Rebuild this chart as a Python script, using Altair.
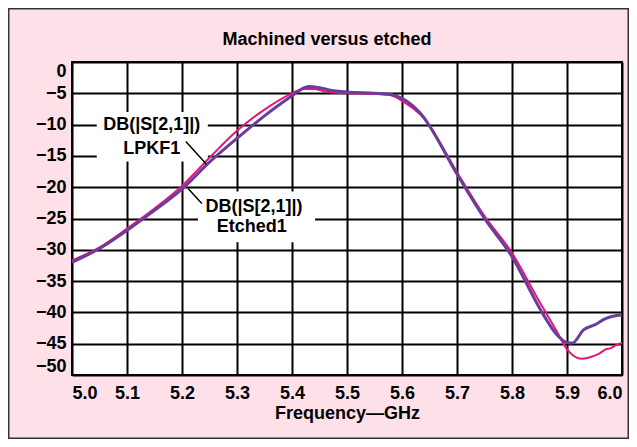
import altair as alt
import pandas as pd

# --- data ---
freq_lpkf = [5.00, 5.05, 5.10, 5.15, 5.20, 5.25, 5.30, 5.35, 5.40, 5.42, 5.43, 5.45, 5.47,
             5.50, 5.55, 5.58, 5.60, 5.62, 5.64, 5.65, 5.70, 5.75, 5.80, 5.85, 5.86, 5.88,
             5.90, 5.91, 5.93, 5.95, 5.97, 5.99, 6.00]
db_lpkf = [-32.0, -29.8, -26.9, -23.7, -20.3, -16.0, -12.2, -8.6, -5.4, -4.2, -3.9, -4.1, -4.5,
           -4.8, -5.0, -5.2, -5.8, -7.0, -8.9, -10.2, -17.9, -25.0, -31.1, -39.3, -40.8, -43.4,
           -44.8, -44.9, -42.8, -42.0, -41.0, -40.5, -40.4]

freq_etched = [5.00, 5.05, 5.10, 5.15, 5.20, 5.25, 5.30, 5.35, 5.40, 5.42, 5.44, 5.46, 5.50,
               5.55, 5.58, 5.60, 5.62, 5.64, 5.65, 5.70, 5.75, 5.80, 5.85, 5.88, 5.90, 5.927,
               5.95, 5.96, 5.97, 5.98, 5.99, 6.00]
db_etched = [-31.7, -29.6, -26.6, -23.4, -19.8, -15.3, -11.0, -7.6, -5.0, -4.3, -4.3, -4.7, -5.0,
             -5.1, -5.3, -6.2, -7.4, -9.0, -10.2, -17.6, -24.6, -30.5, -38.3, -42.8, -45.9, -47.4,
             -46.9, -46.5, -45.9, -45.7, -45.2, -44.9]

x_ticks = [5.0, 5.1, 5.2, 5.3, 5.4, 5.5, 5.6, 5.7, 5.8, 5.9, 6.0]
y_ticks = [0, -5, -10, -15, -20, -25, -30, -35, -40, -45, -50]

title_text = ["Machined versus etched"]

label_text = ["DB(|S[2,1]|)", "LPKF1", "DB(|S[2,1]|)", "Etched1"]
label_f = [5.145, 5.145, 5.331, 5.327]
label_db = [-10.0, -13.9, -23.1, -26.4]

box_f1 = [5.045, 5.229]
box_f2 = [5.247, 5.442]
box_db1 = [-8.0, -20.7]
box_db2 = [-15.9, -28.8]

leader_f1 = [5.207, 5.211]
leader_db1 = [-12.7, -20.2]
leader_f2 = [5.244, 5.236]
leader_db2 = [-16.3, -22.6]

PINK = "#e8137b"
PURPLE = "#6a3d9a"
FONT = "Liberation Sans"

lpkf = pd.DataFrame({"f": freq_lpkf, "db": db_lpkf})
etched = pd.DataFrame({"f": freq_etched, "db": db_etched})
labels = pd.DataFrame({"f": label_f, "db": label_db, "t": label_text})
boxes = pd.DataFrame({"f1": box_f1, "f2": box_f2, "d1": box_db1, "d2": box_db2})
leaders = pd.DataFrame({"f1": leader_f1, "f2": leader_f2, "d1": leader_db1, "d2": leader_db2})
titles = pd.DataFrame({"t": title_text})

xscale = alt.Scale(domain=[5.0, 6.0], nice=False, zero=False)
yscale = alt.Scale(domain=[-50, 0], nice=False)

xaxis = alt.Axis(values=x_ticks, format=".1f", title="Frequency\u2014GHz", grid=True,
                 gridColor="black", gridWidth=2, gridOpacity=1, ticks=False, tickSize=0,
                 domain=False, labelFlush=True, labelPadding=9, labelFont=FONT,
                 labelFontSize=18, labelFontWeight="bold", labelColor="black",
                 titleFont=FONT, titleFontSize=18, titleFontWeight="bold",
                 titleColor="black", titlePadding=2)
yaxis = alt.Axis(values=y_ticks, title=None, grid=True, gridColor="black", gridWidth=2,
                 gridOpacity=1, ticks=False, tickSize=0, domain=False, labelFlush=True,
                 labelPadding=6, labelFont=FONT, labelFontSize=18, labelFontWeight="bold",
                 labelColor="black")

base_x = alt.X("f:Q", scale=xscale, axis=xaxis)
base_y = alt.Y("db:Q", scale=yscale, axis=yaxis)

box_layer = alt.Chart(boxes).mark_rect(color="white").encode(
    x=alt.X("f1:Q", scale=xscale, axis=xaxis), x2="f2:Q",
    y=alt.Y("d1:Q", scale=yscale, axis=yaxis), y2="d2:Q")

pink_layer = alt.Chart(etched).mark_line(color=PINK, strokeWidth=2, interpolate="monotone").encode(
    x=base_x, y=base_y)
purple_layer = alt.Chart(lpkf).mark_line(color=PURPLE, strokeWidth=3, interpolate="monotone").encode(
    x=base_x, y=base_y)

leader_layer = alt.Chart(leaders).mark_rule(color="black", strokeWidth=1.5).encode(
    x=alt.X("f1:Q", scale=xscale, axis=xaxis), x2="f2:Q",
    y=alt.Y("d1:Q", scale=yscale, axis=yaxis), y2="d2:Q")

text_layer = alt.Chart(labels).mark_text(font=FONT, fontSize=18, fontWeight="bold",
                                         color="black", align="center", baseline="middle").encode(
    x=base_x, y=base_y, text="t:N")

title_layer = alt.Chart(titles).mark_text(font=FONT, fontSize=18, fontWeight="bold",
                                          color="black", align="center",
                                          baseline="alphabetic").encode(
    x=alt.value(255), y=alt.value(-17), text="t:N")

frame = alt.Chart(alt.Data(values=[{"a": 1}])).mark_rect(
    filled=False, stroke="#333333", strokeWidth=1.5).encode(
    x=alt.value(-63.25), x2=alt.value(556.25), y=alt.value(-53.25), y2=alt.value(376.25))

chart = alt.layer(frame, box_layer, pink_layer, purple_layer, leader_layer, text_layer,
                  title_layer).properties(
    width=550, height=313,
    autosize=alt.AutoSizeParams(type="none"),
    padding={"left": 64, "top": 54, "right": 7, "bottom": 64},
    background="#fde0e8",
).configure_view(fill="white", stroke="black", strokeWidth=2)

chart.save("out.html", embed_options={"renderer": "svg", "actions": False})
